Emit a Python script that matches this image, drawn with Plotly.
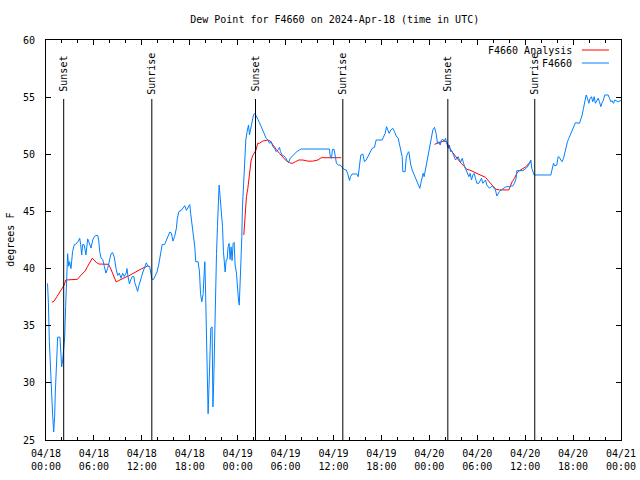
import pandas as pd
import plotly.graph_objects as go

START = "2024-04-18 00:00"

# F4660 observations: hours after 04/18 00:00 UTC, dew point (F)
obs_hours = [
    0.19, 0.3, 0.42, 0.54, 0.71, 0.83, 0.96, 1.08, 1.17, 1.34, 1.46, 1.75, 1.84, 1.96, 2.09, 2.21, 2.34,
    2.46, 2.59, 2.71, 2.84, 2.96, 3.13, 3.33, 3.55, 3.75, 4.05, 4.22, 4.34, 4.47, 4.59, 4.76, 4.88, 5.0,
    5.22, 5.43, 5.64, 5.85, 6.05, 6.26, 6.47, 6.6, 6.72, 6.9, 7.1, 7.3, 7.5, 7.72, 7.93, 8.14, 8.34, 8.55,
    8.77, 8.97, 9.18, 9.4, 9.6, 9.8, 10.03, 10.14, 10.27, 10.45, 10.6, 10.8, 11.0, 11.1, 11.3, 11.47,
    11.63, 11.8, 11.97, 12.14, 12.35, 12.56, 12.77, 12.98, 13.1, 13.26, 13.47, 13.7, 13.9, 14.1, 14.35,
    14.55, 14.85, 15.05, 15.3, 15.5, 15.7, 15.9, 16.1, 16.32, 16.45, 16.65, 16.95, 17.16, 17.37, 17.58,
    17.79, 18.0, 18.12, 18.29, 18.46, 18.63, 18.75, 19.05, 19.22, 19.35, 19.51, 19.68, 19.76, 19.89,
    19.97, 20.1, 20.22, 20.3, 20.4, 20.5, 20.64, 20.8, 20.9, 21.0, 21.1, 21.22, 21.35, 21.47, 21.6,
    21.68, 21.8, 21.97, 22.1, 22.22, 22.43, 22.56, 22.68, 22.8, 22.93, 23.05, 23.18, 23.3, 23.43, 23.56,
    23.68, 23.85, 23.98, 24.1, 24.2, 24.27, 24.4, 24.52, 24.6, 24.77, 24.9, 25.02, 25.19, 25.36, 25.48,
    25.65, 25.82, 25.98, 26.15, 26.32, 26.53, 26.73, 26.94, 27.15, 27.36, 27.57, 27.78, 27.99, 28.2,
    28.4, 28.61, 28.82, 29.03, 29.24, 29.36, 29.57, 29.78, 29.99, 30.2, 30.37, 30.57, 30.82, 31.12,
    31.41, 31.74, 31.95, 35.5, 35.58, 35.75, 35.87, 36.08, 36.21, 36.37, 36.62, 36.83, 37.08, 37.33,
    37.59, 37.79, 38.0, 38.13, 38.34, 38.63, 38.92, 39.09, 39.26, 39.42, 39.67, 39.88, 40.09, 40.3,
    40.59, 40.84, 41.13, 41.34, 42.09, 42.26, 42.47, 42.64, 42.8, 42.97, 43.18, 43.43, 43.64, 43.85,
    44.1, 44.26, 44.43, 44.6, 44.68, 44.97, 45.1, 45.27, 45.43, 45.52, 45.68, 45.85, 46.02, 46.23,
    46.43, 46.64, 46.81, 46.93, 47.1, 47.23, 47.35, 47.52, 47.69, 47.85, 48.02, 48.23, 48.44, 48.65,
    48.85, 49.02, 49.19, 49.36, 49.52, 49.69, 49.86, 50.02, 50.19, 50.36, 50.52, 50.65, 50.77, 50.94,
    51.11, 51.28, 51.44, 51.61, 51.78, 51.94, 52.11, 52.28, 52.44, 52.61, 52.78, 52.95, 53.11, 53.28,
    53.45, 53.61, 53.78, 53.95, 54.2, 54.36, 54.53, 54.7, 54.86, 55.03, 55.2, 55.37, 55.53, 55.74,
    55.95, 56.12, 56.28, 56.45, 56.62, 56.78, 56.99, 57.29, 57.62, 58.04, 58.2, 58.45, 58.66, 58.87,
    58.96, 59.71, 59.87, 60.12, 60.37, 60.54, 60.71, 60.83, 60.96, 61.13, 63.21, 63.38, 63.55, 63.71,
    63.96, 64.13, 64.3, 64.46, 64.63, 64.8, 64.97, 65.13, 65.3, 65.47, 65.63, 65.8, 65.97, 66.13, 66.3,
    66.8, 66.97, 67.14, 67.3, 67.47, 67.64, 67.8, 67.97, 68.14, 68.3, 68.47, 68.64, 68.8, 68.97, 69.14,
    69.3, 69.47, 69.64, 69.8, 69.97, 70.39, 70.56, 70.72, 70.89, 71.06, 71.22, 71.39, 71.64, 71.9, 72.0,
]
obs_values = [
    38.7, 37.0, 33.6, 31.4, 29.2, 27.2, 25.7, 27.0, 29.2, 31.4, 34.0, 34.0, 32.3, 31.4, 32.0, 33.2, 34.0,
    36.7, 39.15, 41.3, 40.2, 40.6, 40.0, 41.5, 42.1, 42.15, 42.4, 42.65, 42.1, 41.2, 42.1, 42.1, 41.7, 41.2,
    42.6, 42.2, 41.8, 42.5, 42.8, 42.9, 42.9, 42.5, 41.5, 40.9, 40.8, 40.2, 39.6, 40.0, 40.8, 41.3, 41.4, 41.0,
    40.0, 39.4, 39.6, 39.15, 39.6, 39.3, 39.6, 40.0, 39.3, 38.65, 39.0, 39.3, 39.3, 38.8, 38.4, 38.0,
    38.5, 39.0, 39.3, 39.7, 40.2, 40.5, 40.2, 40.2, 39.7, 39.06, 39.06, 39.4, 39.7, 40.3, 41.3,
    42.1, 42.1, 42.4, 42.8, 43.2, 43.1, 42.4, 42.8, 43.5, 44.4, 45.0, 45.1, 45.3, 45.5, 45.1,
    45.3, 45.6, 44.8, 43.8, 42.8, 41.9, 40.6, 40.6, 39.7, 37.8, 37.1, 37.8, 39.0, 40.6,
    38.4, 34.0, 29.4, 27.3, 29.4, 32.9, 34.8, 34.9, 27.9, 30.0, 34.2, 38.4, 41.3, 43.7, 46.0,
    47.3, 46.3, 44.7, 43.7, 41.5, 39.7, 40.75, 40.8, 41.9, 42.2, 40.8, 41.9, 40.7, 42.2, 42.3,
    40.3, 39.6, 38.1, 37.25, 36.8, 37.8, 40.5, 42.8, 45.4, 47.75, 49.65, 51.25, 52.0, 52.56, 51.7,
    52.42, 53.0, 53.44, 53.58, 53.29, 53.06, 52.77, 52.42, 52.13, 51.7, 51.4, 51.25, 50.96, 51.1,
    50.67, 50.52, 50.23, 50.38, 50.6, 50.23, 49.94, 49.85, 49.73, 49.44, 49.27, 49.65, 49.85, 50.02,
    50.23, 50.38, 50.46, 50.46, 49.85, 49.65, 50.43, 50.43, 49.8, 49.2, 49.06, 49.06, 48.86, 48.68,
    48.63, 48.28, 47.7, 48.04, 48.28, 48.28, 48.28, 48.04, 49.2, 49.94, 50.02, 49.35, 49.5, 49.79,
    50.08, 50.52, 50.6, 51.25, 51.25, 51.54, 51.83, 52.42, 52.13, 51.83, 52.13, 52.27, 51.98, 51.6,
    51.4, 50.96, 50.38, 49.79, 48.48, 48.48, 49.65, 50.08, 50.23, 49.65, 49.06, 48.63, 48.34, 47.9,
    47.6, 47.23, 47.02, 47.46, 47.9, 48.34, 48.04, 48.63, 49.35, 50.08, 50.6, 51.25, 52.13, 52.36,
    51.83, 50.96, 51.1, 50.81, 51.25, 51.31, 51.1, 51.4, 50.96, 50.52, 50.81, 50.23, 50.38, 50.08,
    49.79, 49.5, 49.65, 49.79, 49.5, 49.35, 49.65, 49.21, 48.86, 48.63, 48.25, 48.04, 48.33, 47.75,
    48.19, 48.33, 47.9, 47.46, 47.46, 47.75, 47.9, 47.46, 47.6, 47.75, 47.31, 47.17, 47.02, 47.17,
    47.23, 47.02, 46.88, 46.35, 46.58, 46.73, 46.88, 47.02, 47.17, 47.17, 47.23, 47.23, 47.46, 47.9,
    48.57, 48.57, 48.63, 48.77, 48.98, 49.21, 49.5, 48.77, 48.48, 48.19, 48.19, 48.77, 49.21, 48.98,
    49.06, 49.79, 49.73, 49.5, 49.35, 49.65, 50.23, 50.67, 51.1, 51.4, 51.69, 51.83, 52.13, 52.42, 52.77,
    52.71, 53.0, 53.44, 54.02, 54.6, 55.19, 54.9, 54.46, 54.9, 55.04, 54.6, 55.04, 54.46, 54.75, 54.9,
    54.6, 54.17, 54.52, 54.75, 55.19, 55.19, 54.9, 54.6, 54.69, 54.46, 54.75, 54.69, 54.6, 54.69, 54.69,
]

# F4660 Analysis (None = gap)
ana_hours = [
    0.73, 1.02, 1.36, 1.69, 1.98, 2.28, 2.48, 3.94, 4.28, 4.61, 4.9, 5.2, 5.53, 5.78, 6.03, 6.28, 6.62,
    7.83, 8.03, 8.24, 8.54, 8.79, 9.08, 9.5, 9.91, 10.33, 10.75, 11.17, 11.58, 12.0, 12.42, 12.71, 12.88,
    18.0,
    24.77, 24.86, 24.98, 25.1, 25.27, 25.4, 25.52, 25.69, 25.9, 26.1, 26.32, 26.5, 26.73, 27.15, 27.78,
    28.07, 28.4, 28.82, 29.24, 29.66, 30.07, 30.49, 30.82, 31.24, 31.66, 32.16, 32.79, 33.41, 34.04,
    34.46, 36.96,
    42.0,
    48.65, 49.06, 49.48, 49.9, 50.19, 50.44, 50.73, 51.15, 51.57, 51.99, 52.4, 52.69, 53.03, 53.45,
    53.86, 54.28, 54.7, 55.03, 55.32, 55.62, 55.95, 56.37, 56.78, 57.95, 58.12, 58.37, 58.66, 58.96,
    59.29, 59.71, 60.12, 60.46, 60.75,
]
ana_values = [
    37.05, 37.16, 37.54, 37.89, 38.13, 38.56, 39.0, 39.06, 39.35, 39.58, 39.79, 40.17, 40.6, 40.9, 40.75,
    40.55, 40.4, 40.37, 40.11, 39.73, 39.23, 38.83, 38.94, 39.12, 39.23, 39.35, 39.53, 39.67, 39.88, 40.0,
    40.11, 40.23, 40.17,
    None,
    42.94, 43.96, 45.1, 46.3, 47.0, 47.75, 48.5, 49.5, 49.9, 50.1, 50.4, 50.96, 50.96, 51.16, 51.25,
    51.16, 50.8, 50.43, 50.08, 49.73, 49.44, 49.27, 49.2, 49.35, 49.5, 49.5, 49.4, 49.4, 49.5,
    49.7, 49.7,
    None,
    50.87, 50.96, 51.1, 51.19, 51.02, 50.67, 50.32, 49.94, 49.56, 49.21, 48.92, 48.68, 48.63, 48.48,
    48.33, 48.25, 48.04, 47.98, 47.75, 47.46, 47.23, 46.93, 46.88, 46.88, 47.23, 47.6, 47.9, 48.33,
    48.57, 48.77, 48.92, 49.21, 49.35,
]

sun_labels = ["Sunset", "Sunrise", "Sunset", "Sunrise", "Sunset", "Sunrise"]
sun_times = ["2024-04-18 02:13", "2024-04-18 13:15", "2024-04-19 02:14",
             "2024-04-19 13:10", "2024-04-20 02:19", "2024-04-20 13:12"]

legend_names = ["F4660 Analysis", "F4660"]
legend_colors = ["#ff0000", "#0080ff"]

base = pd.Timestamp(START)
def to_time(hours):
    return [base + pd.Timedelta(hours=h) for h in hours]

FONT = "DejaVu Sans Mono"
fig = go.Figure()
fig.add_trace(go.Scatter(x=to_time(ana_hours), y=ana_values, mode="lines", name=legend_names[0],
                         line=dict(color=legend_colors[0], width=1), showlegend=False))
fig.add_trace(go.Scatter(x=to_time(obs_hours), y=obs_values, mode="lines", name=legend_names[1],
                         line=dict(color=legend_colors[1], width=1), showlegend=False))

shapes = []
annotations = []
for lab, t in zip(sun_labels, sun_times):
    shapes.append(dict(type="line", xref="x", yref="paper", x0=t, x1=t, y0=0, y1=0.8525,
                       line=dict(color="black", width=1)))
    annotations.append(dict(x=t, y=0.915, xref="x", yref="paper", text=lab, textangle=-90,
                            showarrow=False, xanchor="center", yanchor="middle",
                            font=dict(family=FONT, size=10, color="black")))

# custom legend (text left of sample line)
leg_y = [0.975, 0.9425]
for name, col, yy in zip(legend_names, legend_colors, leg_y):
    annotations.append(dict(x=0.919, y=yy, xref="paper", yref="paper", text=name, showarrow=False,
                            xanchor="right", yanchor="middle",
                            font=dict(family=FONT, size=10, color="black")))
    shapes.append(dict(type="line", xref="paper", yref="paper", x0=0.932, x1=0.979, y0=yy, y1=yy,
                       line=dict(color=col, width=1)))

annotations.append(dict(x=-0.063, y=0.5, xref="paper", yref="paper", text="degrees F", textangle=-90,
                        showarrow=False, xanchor="center", yanchor="middle",
                        font=dict(family=FONT, size=10, color="black")))

fig.update_layout(
    width=640, height=480,
    margin=dict(l=46, r=19, t=40, b=40, autoexpand=False),
    paper_bgcolor="white", plot_bgcolor="white",
    font=dict(family=FONT, size=10, color="black"),
    title=dict(text="Dew Point for F4660 on 2024-Apr-18 (time in UTC)", x=0.523, xanchor="center",
               y=1 - 19 / 480, yanchor="middle", yref="container",
               font=dict(family=FONT, size=10, color="black")),
    shapes=shapes, annotations=annotations, showlegend=False,
)
fig.update_xaxes(
    type="date", range=["2024-04-18 00:00", "2024-04-21 00:00"], automargin=False,
    dtick=6 * 3600 * 1000, tick0="2024-04-18 00:00", tickformat="%m/%d<br>%H:%M",
    ticks="inside", ticklen=5, tickcolor="black", mirror="ticks", showline=True,
    linecolor="black", linewidth=1, showgrid=False, zeroline=False, ticklabelstandoff=4,
    minor=dict(dtick=2 * 3600 * 1000, tick0="2024-04-18 00:00", ticks="inside", ticklen=3,
               tickcolor="black", showgrid=False),
    tickfont=dict(family=FONT, size=10, color="black"),
)
fig.update_yaxes(
    range=[25, 60], dtick=5, tick0=25, ticks="inside", ticklen=5, tickcolor="black",
    mirror="ticks", showline=True, linecolor="black", linewidth=1, showgrid=False,
    zeroline=False, ticklabelstandoff=8, automargin=False,
    tickfont=dict(family=FONT, size=10, color="black"),
)

fig.write_html("out.html")
